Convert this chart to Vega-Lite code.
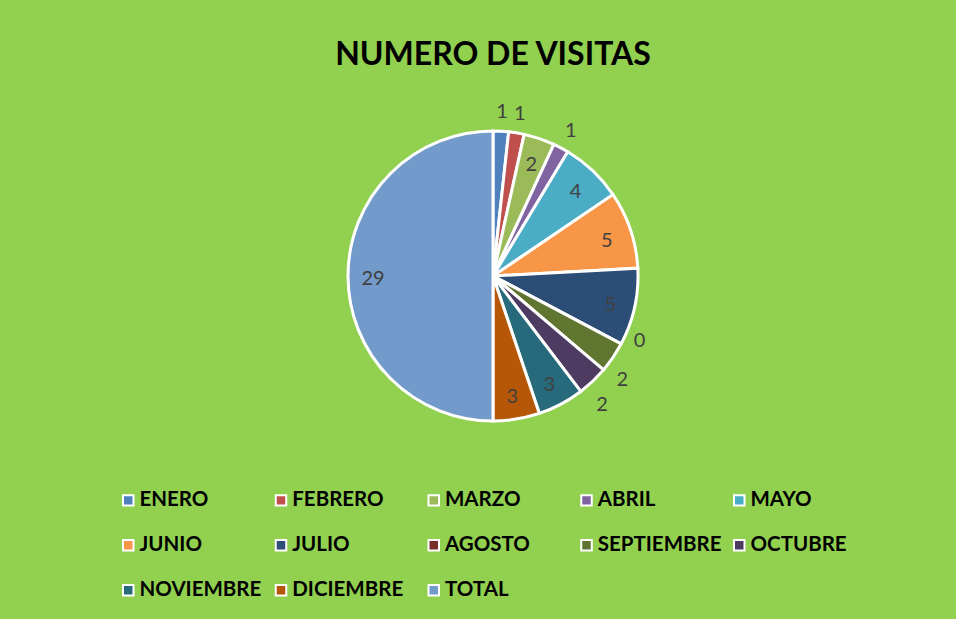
{
  "$schema": "https://vega.github.io/schema/vega-lite/v6.json",
  "width": 300,
  "height": 300,
  "autosize": {"type": "none"},
  "padding": {"left": 343, "top": 126, "right": 313, "bottom": 193},
  "background": "#92D050",
  "title": {
    "text": "NUMERO DE VISITAS",
    "font": "Lato",
    "fontSize": 32,
    "fontWeight": "bold",
    "color": "#000000",
    "anchor": "middle",
    "frame": "group",
    "baseline": "alphabetic",
    "offset": 5
  },
  "data": {
    "values": [
      {"mes": "ENERO", "visitas": 1, "idx": 1},
      {"mes": "FEBRERO", "visitas": 1, "idx": 2},
      {"mes": "MARZO", "visitas": 2, "idx": 3},
      {"mes": "ABRIL", "visitas": 1, "idx": 4},
      {"mes": "MAYO", "visitas": 4, "idx": 5},
      {"mes": "JUNIO", "visitas": 5, "idx": 6},
      {"mes": "JULIO", "visitas": 5, "idx": 7},
      {"mes": "AGOSTO", "visitas": 0, "idx": 8},
      {"mes": "SEPTIEMBRE", "visitas": 2, "idx": 9},
      {"mes": "OCTUBRE", "visitas": 2, "idx": 10},
      {"mes": "NOVIEMBRE", "visitas": 3, "idx": 11},
      {"mes": "DICIEMBRE", "visitas": 3, "idx": 12},
      {"mes": "TOTAL", "visitas": 29, "idx": 13}
    ]
  },
  "transform": [
    {"stack": "visitas", "sort": [{"field": "idx", "order": "ascending"}], "as": ["v0", "v1"]},
    {"calculate": "(datum.v0 + datum.v1) / 2", "as": "vmid"}
  ],
  "layer": [
    {
      "mark": {"type": "arc", "outerRadius": 145, "stroke": "#FFFFFF", "strokeWidth": 3},
      "encoding": {
        "theta": {"field": "v0", "type": "quantitative", "scale": {"domain": [0, 58]}},
        "theta2": {"field": "v1"},
        "color": {
          "field": "mes",
          "type": "nominal",
          "sort": null,
          "scale": {
            "domain": ["ENERO", "FEBRERO", "MARZO", "ABRIL", "MAYO", "JUNIO", "JULIO", "AGOSTO", "SEPTIEMBRE", "OCTUBRE", "NOVIEMBRE", "DICIEMBRE", "TOTAL"],
            "range": ["#4F81BD", "#C0504D", "#9BBB59", "#8064A2", "#4BACC6", "#F79646", "#2C4D75", "#772C2A", "#5F7530", "#4D3B62", "#276A7C", "#B65708", "#729ACA"]
          },
          "legend": {
            "title": null,
            "orient": "none",
            "legendX": -225,
            "legendY": 364,
            "direction": "horizontal",
            "columns": 5,
            "gridAlign": "all",
            "columnPadding": 6.75,
            "rowPadding": 24,
            "padding": 0,
            "symbolType": "square",
            "symbolSize": 110,
            "symbolStrokeColor": "#FFFFFF",
            "symbolStrokeWidth": 2,
            "symbolOpacity": 1,
            "labelFont": "Lato",
            "labelFontSize": 20.5,
            "labelFontWeight": "bold",
            "labelColor": "#000000",
            "labelOffset": 1,
            "labelLimit": 250
          }
        }
      }
    },
    {
      "transform": [{"filter": "indexof(['MARZO','MAYO','JUNIO','JULIO','NOVIEMBRE','DICIEMBRE','TOTAL'], datum.mes) >= 0"}],
      "mark": {"type": "text", "radius": 120, "dy": 3, "font": "Lato", "fontSize": 20, "color": "#404040", "align": "center", "baseline": "middle"},
      "encoding": {
        "theta": {"field": "vmid", "type": "quantitative", "scale": {"domain": [0, 58]}},
        "text": {"field": "visitas", "type": "quantitative"}
      }
    },
    {
      "transform": [{"filter": "indexof(['ENERO','FEBRERO','ABRIL'], datum.mes) >= 0"}],
      "mark": {"type": "text", "radius": 166, "dy": 2, "font": "Lato", "fontSize": 20, "color": "#404040", "align": "center", "baseline": "middle"},
      "encoding": {
        "theta": {"field": "vmid", "type": "quantitative", "scale": {"domain": [0, 58]}},
        "text": {"field": "visitas", "type": "quantitative"}
      }
    },
    {
      "transform": [{"filter": "datum.mes == 'AGOSTO'"}],
      "mark": {"type": "text", "radius": 166, "dy": -13, "font": "Lato", "fontSize": 20, "color": "#404040", "align": "center", "baseline": "middle"},
      "encoding": {
        "theta": {"field": "vmid", "type": "quantitative", "scale": {"domain": [0, 58]}},
        "text": {"field": "visitas", "type": "quantitative"}
      }
    },
    {
      "transform": [{"filter": "datum.mes == 'SEPTIEMBRE'"}],
      "mark": {"type": "text", "radius": 166, "dx": -8, "dy": 11, "font": "Lato", "fontSize": 20, "color": "#404040", "align": "center", "baseline": "middle"},
      "encoding": {
        "theta": {"field": "vmid", "type": "quantitative", "scale": {"domain": [0, 58]}},
        "text": {"field": "visitas", "type": "quantitative"}
      }
    },
    {
      "transform": [{"filter": "datum.mes == 'OCTUBRE'"}],
      "mark": {"type": "text", "radius": 166, "dx": -5, "dy": 8, "font": "Lato", "fontSize": 20, "color": "#404040", "align": "center", "baseline": "middle"},
      "encoding": {
        "theta": {"field": "vmid", "type": "quantitative", "scale": {"domain": [0, 58]}},
        "text": {"field": "visitas", "type": "quantitative"}
      }
    }
  ],
  "config": {"view": {"stroke": null}}
}
